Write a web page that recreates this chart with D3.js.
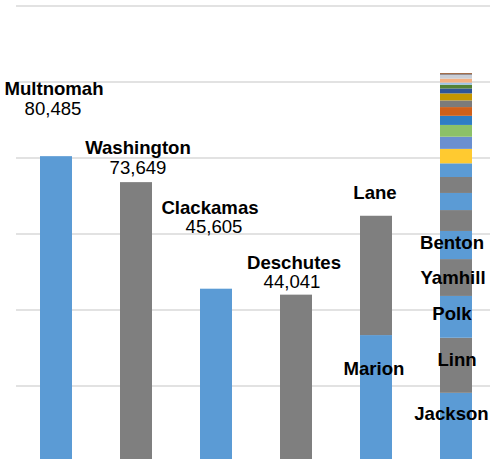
<!DOCTYPE html>
<html>
<head>
<meta charset="utf-8">
<script src="https://cdn.jsdelivr.net/npm/d3@7"></script>
<style>
  html, body { margin: 0; padding: 0; background: #fff; overflow: hidden; }
  svg { display: block; }
  text { font-family: "Liberation Sans", Arial, sans-serif; }
</style>
</head>
<body>
<div id="chart"></div>
<script>
// ---- data ----
const columns = ["Multnomah", "Washington", "Clackamas", "Deschutes", "Lane", "Other"];

const segNames = ["Multnomah", "Washington", "Clackamas", "Deschutes",
  "Marion", "Lane",
  "Jackson", "Linn", "Polk", "Yamhill", "Benton", "Douglas", "Umatilla", "Josephine",
  "Klamath", "Coos", "Columbia", "Lincoln", "Clatsop", "Malheur", "Tillamook", "Union",
  "Hood River", "Wasco", "Jefferson", "Crook", "Curry", "Baker", "Grant"];
const segColumn = ["Multnomah", "Washington", "Clackamas", "Deschutes",
  "Lane", "Lane",
  "Other", "Other", "Other", "Other", "Other", "Other", "Other", "Other",
  "Other", "Other", "Other", "Other", "Other", "Other", "Other", "Other",
  "Other", "Other", "Other", "Other", "Other", "Other", "Other"];
const segValues = [80485, 73649, 45605, 44041,
  33400, 31400,
  18200, 14500, 11000, 9700, 7400, 5500, 4500, 4200,
  3600, 3800, 3200, 3100, 2400, 2300, 1750, 1850,
  1300, 1000, 550, 1050, 1050, 100, 250];

const yTicks = [0, 20000, 40000, 60000, 80000, 100000, 120000];

// labels: which segments carry a name label, which also show the value
const labelNames = ["Multnomah", "Washington", "Clackamas", "Deschutes", "Lane", "Marion",
  "Benton", "Yamhill", "Polk", "Linn", "Jackson"];
const labelShowValue = [true, true, true, true, false, false, false, false, false, false, false];

// ---- style (kept apart from the data) ----
const segColors = ["#5B9BD5", "#7F7F7F", "#5B9BD5", "#7F7F7F",
  "#5B9BD5", "#7F7F7F",
  "#5B9BD5", "#7F7F7F", "#5B9BD5", "#7F7F7F", "#5B9BD5", "#7F7F7F", "#5B9BD5", "#7F7F7F",
  "#5B9BD5", "#FFCA30", "#6A8FD0", "#8CC168", "#2F7DC4", "#D0601B", "#7B7B7B", "#C59600",
  "#2F5597", "#548235", "#A0C4E8", "#F4B183", "#C9CED6", "#203864", "#843C0C"];
// label baseline offset relative to the top of its segment (px)
const labelDy = [-61, -28, -75, -26, -17, 40, 18, 25, 24, 28, 27];
const labelDx = [-2, 2, -6, -2, -1, -2, -4, -3, -4, 1, -4.5];
const valueDx = [-3, 2, -2, -4, 0, 0, 0, 0, 0, 0, 0];
const fontPx = 18.6;

// ---- chart ----
const W = 490, H = 459;
const svg = d3.select("#chart").append("svg").attr("width", W).attr("height", H);

const x = d3.scaleBand().domain(columns).range([16, 496]).paddingInner(0.6).paddingOuter(0.3);
const y = d3.scaleLinear().domain([0, 120000]).range([462, 6]);

// gridlines
svg.append("g")
  .selectAll("line").data(yTicks).join("line")
  .attr("x1", 16).attr("x2", W)
  .attr("y1", d => y(d)).attr("y2", d => y(d))
  .attr("stroke", "#D9D9D9").attr("stroke-width", 1.5);

// stack segments per column
const segs = [];
const cum = {};
segNames.forEach((n, i) => {
  const c = segColumn[i];
  const y0 = cum[c] || 0;
  const y1 = y0 + segValues[i];
  cum[c] = y1;
  segs.push({ name: n, col: c, value: segValues[i], y0, y1, color: segColors[i] });
});

svg.append("g")
  .selectAll("rect").data(segs).join("rect")
  .attr("x", d => x(d.col))
  .attr("width", x.bandwidth())
  .attr("y", d => y(d.y1))
  .attr("height", d => y(d.y0) - y(d.y1))
  .attr("fill", d => d.color);

// labels
const fmt = d3.format(",");
const lbl = svg.append("g");
labelNames.forEach((n, i) => {
  const s = segs.find(d => d.name === n);
  const cx = x(s.col) + x.bandwidth() / 2;
  const top = y(s.y1);
  lbl.append("text")
    .attr("x", cx + labelDx[i]).attr("y", top + labelDy[i])
    .attr("text-anchor", "middle")
    .attr("font-size", fontPx).attr("font-weight", "bold").attr("fill", "#000")
    .text(n);
  if (labelShowValue[i]) {
    lbl.append("text")
      .attr("x", cx + valueDx[i]).attr("y", top + labelDy[i] + 19.5)
      .attr("text-anchor", "middle")
      .attr("font-size", fontPx).attr("fill", "#000")
      .text(fmt(s.value));
  }
});
</script>
</body>
</html>
